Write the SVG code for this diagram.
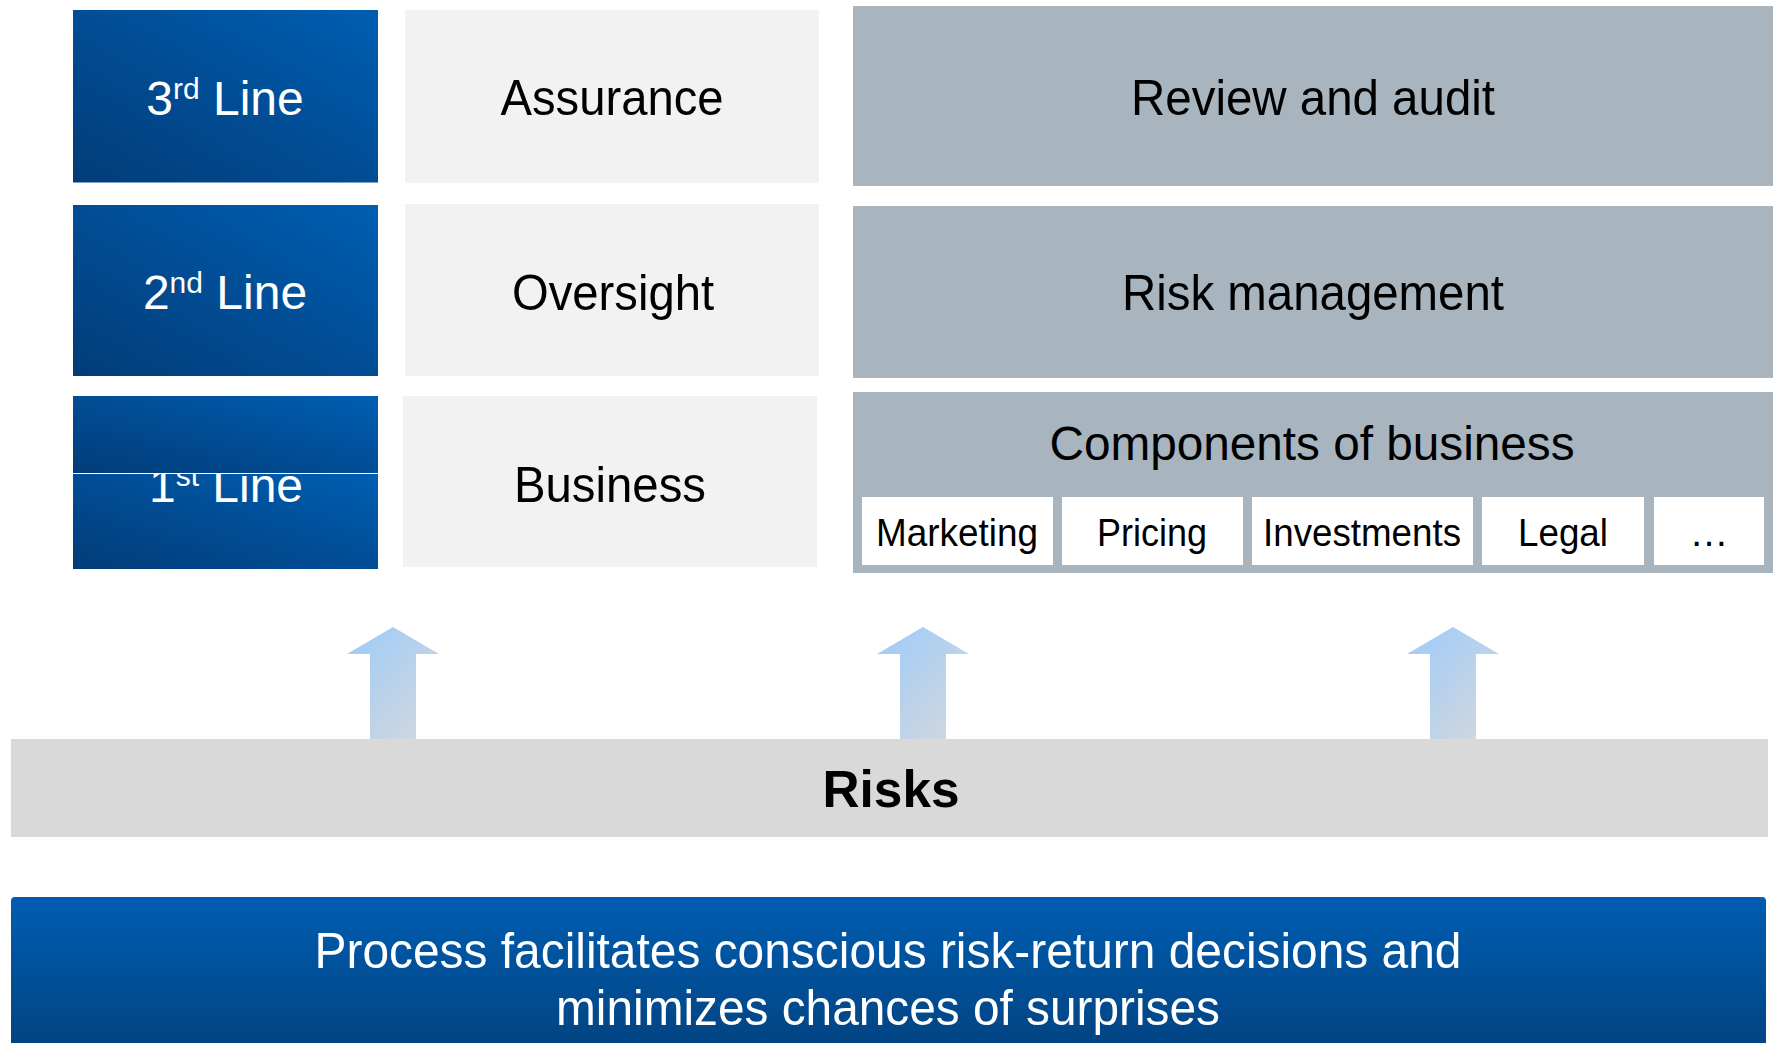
<svg xmlns="http://www.w3.org/2000/svg" width="1779" height="1043" viewBox="0 0 1779 1043">
<defs>
<linearGradient id="blueDiag" x1="0" y1="1" x2="1" y2="0">
<stop offset="0" stop-color="#023c78"/>
<stop offset="1" stop-color="#005eb2"/>
</linearGradient>
<linearGradient id="blueVert" x1="0" y1="0" x2="0" y2="1">
<stop offset="0" stop-color="#005db1"/>
<stop offset="1" stop-color="#02427f"/>
</linearGradient>
<linearGradient id="arrowGrad" x1="0" y1="0" x2="1" y2="1">
<stop offset="0" stop-color="#9ccbfa"/>
<stop offset="1" stop-color="#d6d8dc"/>
</linearGradient>
<path id="arrowShape" d="M0,0 L46,27 L23,27 L23,112 L-23,112 L-23,27 L-46,27 Z"/>
</defs>
<style>
.t{font-family:"Liberation Sans",Arial,Helvetica,sans-serif;text-anchor:middle}
.w{fill:#ffffff}
.k{fill:#000000}
.blue{fill:url(#blueDiag)}
.light{fill:#f2f2f2}
.gray{fill:#a8b5be}
.sub{fill:#ffffff}
.lbl{font-size:50px}
.line{font-size:48px}
.sup{font-size:30px}
.subt{font-size:39px}
</style>
<rect width="1779" height="1043" fill="#ffffff"/>

<g id="connectors">
<use href="#arrowShape" x="393" y="627" fill="url(#arrowGrad)"/>
<use href="#arrowShape" x="923" y="627" fill="url(#arrowGrad)"/>
<use href="#arrowShape" x="1453" y="627" fill="url(#arrowGrad)"/>
</g>

<g id="line3">
<rect class="blue" x="73" y="10" width="305" height="172"/>
<line x1="73" y1="182.5" x2="378" y2="182.5" stroke="#7fa3c9" stroke-width="1"/>
<text class="t w line" x="225" y="115">3<tspan class="sup" dy="-16">rd</tspan><tspan dy="16"> Line</tspan></text>
</g>
<g id="line2">
<rect class="blue" x="73" y="205" width="305" height="171"/>
<text class="t w line" x="225" y="309">2<tspan class="sup" dy="-16">nd</tspan><tspan dy="16"> Line</tspan></text>
</g>
<g id="line1">
<rect class="blue" x="73" y="474" width="305" height="95"/>
<text class="t w line" x="226" y="502">1<tspan class="sup" dy="-16">st</tspan><tspan dy="16"> Line</tspan></text>
<rect class="blue" x="73" y="396" width="305" height="77"/>
</g>

<g id="assurance">
<rect class="light" x="405" y="10" width="414" height="173"/>
<text class="t k lbl" x="612" y="115" textLength="223" lengthAdjust="spacingAndGlyphs">Assurance</text>
</g>
<g id="oversight">
<rect class="light" x="405" y="204" width="414" height="172"/>
<text class="t k lbl" x="613" y="310" textLength="202" lengthAdjust="spacingAndGlyphs">Oversight</text>
</g>
<g id="business">
<rect class="light" x="403" y="396" width="414" height="171"/>
<text class="t k lbl" x="610" y="502" textLength="192" lengthAdjust="spacingAndGlyphs">Business</text>
</g>

<g id="review">
<rect class="gray" x="853" y="6" width="920" height="180"/>
<text class="t k lbl" x="1313" y="115" textLength="364" lengthAdjust="spacingAndGlyphs">Review and audit</text>
</g>
<g id="riskmgmt">
<rect class="gray" x="853" y="206" width="920" height="172"/>
<text class="t k lbl" x="1313" y="310" textLength="382" lengthAdjust="spacingAndGlyphs">Risk management</text>
</g>
<g id="components">
<rect class="gray" x="853" y="392" width="920" height="181"/>
<text class="t k" x="1312" y="460" font-size="48" textLength="525" lengthAdjust="spacingAndGlyphs">Components of business</text>
</g>
<g id="marketing">
<rect class="sub" x="862" y="497" width="191" height="68"/>
<text class="t k subt" x="957" y="546" textLength="162" lengthAdjust="spacingAndGlyphs">Marketing</text>
</g>
<g id="pricing">
<rect class="sub" x="1062" y="497" width="181" height="68"/>
<text class="t k subt" x="1152" y="546" textLength="110" lengthAdjust="spacingAndGlyphs">Pricing</text>
</g>
<g id="investments">
<rect class="sub" x="1252" y="497" width="221" height="68"/>
<text class="t k subt" x="1362" y="546" textLength="198" lengthAdjust="spacingAndGlyphs">Investments</text>
</g>
<g id="legal">
<rect class="sub" x="1482" y="497" width="162" height="68"/>
<text class="t k subt" x="1563" y="546" textLength="90" lengthAdjust="spacingAndGlyphs">Legal</text>
</g>
<g id="more">
<rect class="sub" x="1654" y="497" width="110" height="68"/>
<text class="t k subt" x="1709" y="546">…</text>
</g>

<g id="risks">
<rect x="11" y="739" width="1757" height="98" fill="#d9d9d9"/>
<text class="t k" x="891" y="807" font-size="52" font-weight="bold" textLength="137" lengthAdjust="spacingAndGlyphs">Risks</text>
</g>

<g id="outcome">
<rect x="11" y="897" width="1755" height="160" rx="4" fill="url(#blueVert)"/>
<text class="t w" x="888" y="968" font-size="50" textLength="1147" lengthAdjust="spacingAndGlyphs">Process facilitates conscious risk-return decisions and</text>
<text class="t w" x="888" y="1025" font-size="50" textLength="664" lengthAdjust="spacingAndGlyphs">minimizes chances of surprises</text>
</g>
</svg>
